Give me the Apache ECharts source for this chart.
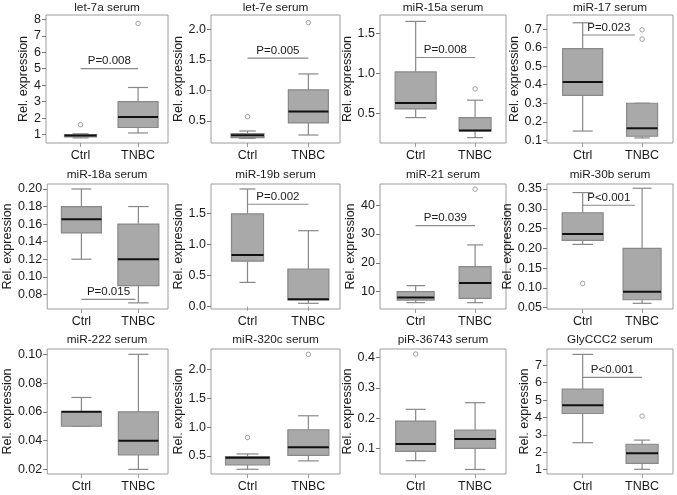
<!DOCTYPE html>
<html>
<head>
<meta charset="utf-8">
<script src="https://cdn.jsdelivr.net/npm/echarts@6/dist/echarts.min.js"></script>
<style>
html,body{margin:0;padding:0;background:#fff;}
#chart{width:677px;height:495px;}
</style>
</head>
<body>
<div id="chart"></div>
<script>
// ---------------- DATA ----------------
const categories = ['Ctrl', 'TNBC'];
const titles = ['let-7a serum', 'let-7e serum', 'miR-15a serum', 'miR-17 serum',
  'miR-18a serum', 'miR-19b serum', 'miR-21 serum', 'miR-30b serum',
  'miR-222 serum', 'miR-320c serum', 'piR-36743 serum', 'GlyCCC2 serum'];
// [min, Q1, median, Q3, max]
const ctrlStats = [
  [0.80, 0.86, 0.94, 1.00, 1.05],
  [0.215, 0.226, 0.265, 0.292, 0.336],
  [0.45, 0.558, 0.633, 1.02, 1.65],
  [0.15, 0.343, 0.415, 0.595, 0.734],
  [0.12, 0.150, 0.1655, 0.180, 0.200],
  [0.39, 0.73, 0.83, 1.49, 1.89],
  [6.2, 7.1, 8.0, 10.0, 12.1],
  [0.21, 0.22, 0.236, 0.29, 0.341],
  [0.05, 0.05, 0.06, 0.06, 0.07],
  [0.27, 0.344, 0.47, 0.49, 0.535],
  [0.059, 0.09, 0.114, 0.19, 0.229],
  [2.55, 4.23, 4.70, 5.64, 7.63]
];
const tnbcStats = [
  [1.10, 1.43, 2.07, 3.00, 3.86],
  [0.27, 0.467, 0.653, 1.01, 1.27],
  [0.20, 0.283, 0.29, 0.45, 0.667],
  [0.113, 0.122, 0.165, 0.30, 0.30],
  [0.0703, 0.09, 0.12, 0.16, 0.18],
  [0.054, 0.107, 0.118, 0.605, 1.22],
  [6.2, 7.7, 13.0, 18.65, 26.2],
  [0.061, 0.07, 0.09, 0.20, 0.352],
  [0.02, 0.03, 0.04, 0.06, 0.10],
  [0.415, 0.51, 0.65, 0.954, 1.196],
  [0.03, 0.10, 0.131, 0.16, 0.251],
  [1.02, 1.36, 1.94, 2.46, 2.70]
];
const ctrlOutliers = [[1.6], [0.57], [], [], [], [], [], [0.111], [], [0.82], [0.412], []];
const tnbcOutliers = [[7.75], [2.11], [0.808], [0.696, 0.646], [], [], [45.5], [], [], [2.26], [], [4.08]];
const pLabels = ['P=0.008', 'P=0.005', 'P=0.008', 'P=0.023', 'P=0.015', 'P=0.002', 'P=0.039', 'P<0.001', null, null, null, 'P<0.001'];
const pLineY = [5.0, 1.53, 1.2, 0.668, 0.0743, 1.645, 32.9, 0.309, null, null, null, 6.31];
const pLineEnd = [2, 2, 2, 1.88, 1.95, 2, 2, 1.88, null, null, null, 2];
const yTickLabels = [
  ['1', '2', '3', '4', '5', '6', '7', '8'],
  ['0.5', '1.0', '1.5', '2.0'],
  ['0.5', '1.0', '1.5'],
  ['0.1', '0.2', '0.3', '0.4', '0.5', '0.6', '0.7'],
  ['0.08', '0.10', '0.12', '0.14', '0.16', '0.18', '0.20'],
  ['0.0', '0.5', '1.0', '1.5'],
  ['10', '20', '30', '40'],
  ['0.05', '0.10', '0.15', '0.20', '0.25', '0.30', '0.35'],
  ['0.02', '0.04', '0.06', '0.08', '0.10'],
  ['0.5', '1.0', '1.5', '2.0'],
  ['0.1', '0.2', '0.3', '0.4'],
  ['1', '2', '3', '4', '5', '6', '7']
];
const yRange = [
  [0.49, 8.26], [0.139, 2.235], [0.133, 1.73], [0.0856, 0.776],
  [0.0633, 0.2057], [-0.0375, 1.97], [4.0, 47.3], [0.0466, 0.3627],
  [0.0168, 0.1037], [0.188, 2.352], [0.015, 0.4287], [0.75, 7.94]
];

// ---------------- LAYOUT / STYLE ----------------
const GRID_LEFT = [46, 211, 380, 547];
const GRID_W = [122, 129, 126, 126];
const GRID_TOP = [15, 184, 349];
const GRID_H = [128, 125, 125];
const TITLE_Y = [2, 169, 334];
const X_RANGE = [0.40, 2.52];
// box widths in px [ctrl, tnbc]
const BOX_W = [[32, 40], [33, 40], [41, 32], [40, 31], [40, 41], [32, 41],
  [37, 32], [41, 38], [40, 40], [44, 41], [40, 41], [41, 32]];
const NAME_GAP = [16, 24, 24, 24, 32, 24, 22, 32, 32, 24, 24, 16];
const FONT = 'Liberation Sans, Arial, Helvetica, sans-serif';
const FILL = '#a9a9a9';
const EDGE = '#888888';
const FRAME = '#9c9c9c';
const TEXT = '#1a1a1a';

// ---------------- BUILD ----------------
const grids = [], xAxes = [], yAxes = [], series = [], titleArr = [];
for (let i = 0; i < 12; i++) {
  const r = Math.floor(i / 4), c = i % 4;
  grids.push({
    left: GRID_LEFT[c], top: GRID_TOP[r], width: GRID_W[c], height: GRID_H[r],
    show: true, borderColor: FRAME, borderWidth: 1, backgroundColor: 'transparent'
  });
  titleArr.push({
    text: titles[i], left: GRID_LEFT[c] + GRID_W[c] / 2, top: TITLE_Y[r], textAlign: 'center',
    padding: 0,
    textStyle: { fontFamily: FONT, fontSize: 11.8, fontWeight: 'normal', color: TEXT }
  });
  xAxes.push({
    type: 'value', gridIndex: i, min: X_RANGE[0], max: X_RANGE[1],
    axisLine: { show: false },
    axisTick: { show: true, customValues: [1, 2], length: 4, lineStyle: { color: FRAME } },
    axisLabel: {
      customValues: [1, 2], margin: 6, fontFamily: FONT, fontSize: 12.5, color: TEXT,
      formatter: v => categories[Math.round(v) - 1]
    },
    splitLine: { show: false }
  });
  const labs = yTickLabels[i];
  const ticks = labs.map(Number);
  yAxes.push({
    type: 'value', gridIndex: i, min: yRange[i][0], max: yRange[i][1],
    name: 'Rel. expression', nameLocation: 'middle', nameGap: NAME_GAP[i],
    nameTextStyle: { fontFamily: FONT, fontSize: 12.5, color: TEXT },
    axisLine: { show: false },
    axisTick: { show: true, customValues: ticks, length: 4, lineStyle: { color: '#777' } },
    axisLabel: {
      customValues: ticks, margin: 5, fontFamily: FONT, fontSize: 12.5, color: TEXT,
      formatter: v => { const k = ticks.findIndex(t => Math.abs(t - v) < 1e-9); return k >= 0 ? labs[k] : ''; }
    },
    splitLine: { show: false }
  });
  const widths = BOX_W[i];
  series.push({
    type: 'custom', xAxisIndex: i, yAxisIndex: i,
    data: [[1].concat(ctrlStats[i]), [2].concat(tnbcStats[i])],
    encode: { x: 0, y: [1, 2, 3, 4, 5] },
    renderItem: function (params, api) {
      const x = api.value(0);
      const p = k => api.coord([x, api.value(k)]);
      const pMin = p(1), pQ1 = p(2), pMed = p(3), pQ3 = p(4), pMax = p(5);
      const cx = pMed[0];
      const w = widths[params.dataIndex];
      const hw = w / 2, cw = w / 4;
      const ls = { stroke: EDGE, lineWidth: 1.2 };
      return {
        type: 'group',
        children: [
          { type: 'line', shape: { x1: cx, y1: pQ1[1], x2: cx, y2: pMin[1] }, style: ls },
          { type: 'line', shape: { x1: cx, y1: pQ3[1], x2: cx, y2: pMax[1] }, style: ls },
          { type: 'line', shape: { x1: cx - cw, y1: pMin[1], x2: cx + cw, y2: pMin[1] }, style: ls },
          { type: 'line', shape: { x1: cx - cw, y1: pMax[1], x2: cx + cw, y2: pMax[1] }, style: ls },
          { type: 'rect', shape: { x: cx - hw, y: pQ3[1], width: w, height: Math.max(pQ1[1] - pQ3[1], 1) },
            style: { fill: FILL, stroke: EDGE, lineWidth: 1.2 } },
          { type: 'line', shape: { x1: cx - hw, y1: pMed[1], x2: cx + hw, y2: pMed[1] },
            style: { stroke: '#111', lineWidth: 2 } }
        ]
      };
    },
    z: 2, silent: true, animation: false
  });
  const outl = [];
  ctrlOutliers[i].forEach(v => outl.push([1, v]));
  tnbcOutliers[i].forEach(v => outl.push([2, v]));
  if (outl.length) {
    series.push({
      type: 'scatter', xAxisIndex: i, yAxisIndex: i, data: outl,
      symbol: 'circle', symbolSize: 4.5,
      itemStyle: { color: 'transparent', borderColor: '#8a8a8a', borderWidth: 1 },
      z: 3, silent: true, animation: false
    });
  }
  if (pLabels[i]) {
    const lab = pLabels[i];
    series.push({
      type: 'custom', xAxisIndex: i, yAxisIndex: i,
      data: [[1, pLineEnd[i], pLineY[i]]],
      encode: { x: [0, 1], y: 2 },
      renderItem: function (params, api) {
        const a = api.coord([api.value(0), api.value(2)]);
        const b = api.coord([api.value(1), api.value(2)]);
        return {
          type: 'group',
          children: [
            { type: 'line', shape: { x1: a[0], y1: a[1], x2: b[0], y2: b[1] }, style: { stroke: '#8a8a8a', lineWidth: 1.2 } },
            { type: 'text', x: (a[0] + b[0]) / 2, y: a[1] - 1.5,
              style: { text: lab, fill: TEXT, font: '11.5px ' + FONT, textAlign: 'center', textVerticalAlign: 'bottom' } }
          ]
        };
      },
      z: 4, silent: true, animation: false
    });
  }
}

const chart = echarts.init(document.getElementById('chart'), null, { renderer: 'canvas' });
chart.setOption({
  animation: false,
  backgroundColor: '#fff',
  title: titleArr,
  grid: grids, xAxis: xAxes, yAxis: yAxes, series: series
});
</script>
</body>
</html>
